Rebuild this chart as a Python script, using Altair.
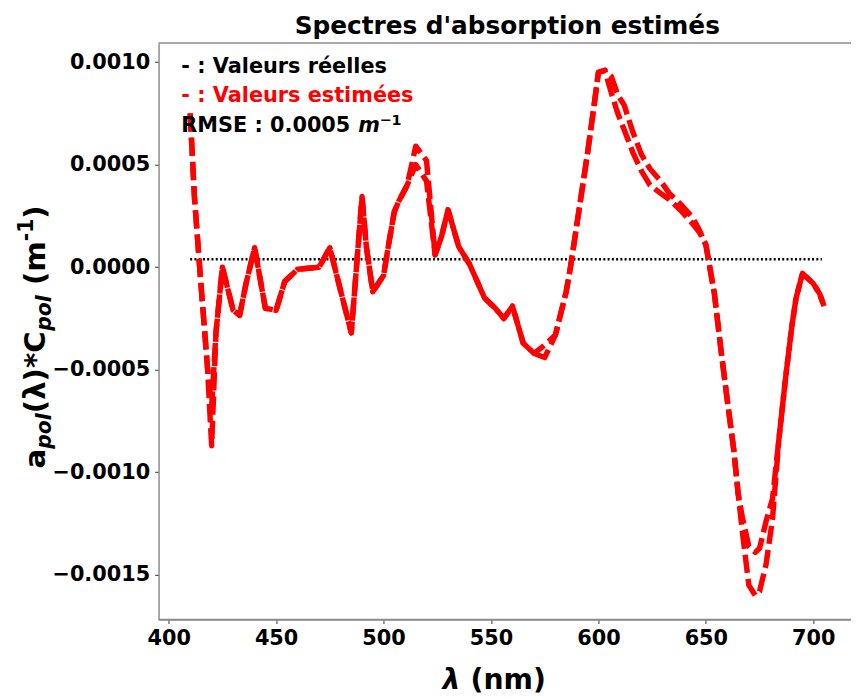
import altair as alt
import pandas as pd

# ---- data ----
wavelength = [410, 412, 415, 418, 420, 422, 425, 430, 433, 436, 440, 445, 450, 454,
              460, 465, 470, 475, 480, 485, 490, 492, 495, 500, 503, 505, 507, 511,
              515, 520, 524, 527, 530, 535, 540, 547, 552, 556, 560, 565, 570, 575,
              580, 585, 587, 589, 592, 595, 598, 600, 603, 606, 609, 612, 616, 620,
              624, 629, 633, 638, 644, 647, 650, 654, 657, 660, 663, 665, 667, 670,
              673, 675, 678, 681, 684, 687, 690, 692, 695, 700, 703, 705]

estimate_a = [0.00075, 0.00034, -0.00008, -0.00048, -0.00087, -0.00032, 0.0, -0.00021,
              -0.000235, -0.00008, 0.000095, -0.0002, -0.00021, -0.00007, -0.00001,
              -0.000005, 0.0, 0.000095, -0.000114, -0.00032, 0.000345, 0.0001, -0.00012,
              -0.00004, 0.00015, 0.00027, 0.00032, 0.0004, 0.00059, 0.00052, 0.00006,
              0.00015, 0.00028, 0.0001, 0.000015, -0.00015, -0.0002, -0.00025, -0.00019,
              -0.00037, -0.00042, -0.00044, -0.00033, -0.00012, 0.0, 0.00014, 0.00035,
              0.00056, 0.00079, 0.00095, 0.00096, 0.00093, 0.00084, 0.00079, 0.00066,
              0.00055, 0.00048, 0.00042, 0.00036, 0.00031, 0.00024, 0.00018, 0.00011,
              -0.00013, -0.0004, -0.00065, -0.00089, -0.0011, -0.00129, -0.00155,
              -0.0016, -0.00158, -0.00145, -0.00123, -0.00084, -0.00055, -0.00029,
              -0.00015, -0.00003, -0.00008, -0.00013, -0.00019]

estimate_b = [0.00075, 0.00034, -0.00008, -0.00048, -0.00068, -0.00032, 0.0, -0.00021,
              -0.000235, -0.00008, 0.000095, -0.0002, -0.00021, -0.00007, -0.00001,
              -0.000005, 0.0, 0.000095, -0.000114, -0.00032, 0.000345, 0.0001, -0.00012,
              -0.00004, 0.00015, 0.00027, 0.00032, 0.0004, 0.0005, 0.00042, 0.00006,
              0.00015, 0.00028, 0.0001, 0.000015, -0.00015, -0.0002, -0.00025, -0.00019,
              -0.00037, -0.00042, -0.00038, -0.00033, -0.00012, 0.0, 0.00014, 0.00035,
              0.00056, 0.00079, 0.00095, 0.00096, 0.00085, 0.00075, 0.00067, 0.00056,
              0.00047, 0.0004, 0.00036, 0.00033, 0.00028, 0.00021, 0.00017, 0.00011,
              -0.00013, -0.0004, -0.00065, -0.00089, -0.0011, -0.00122, -0.00136,
              -0.00139, -0.00137, -0.00124, -0.00113, -0.00084, -0.00055, -0.00029,
              -0.00015, -0.00003, -0.00008, -0.00013, -0.00019]

real_wavelength = [410, 704]
real_values = [0.000039, 0.000039]

x_ticks = [400, 450, 500, 550, 600, 650, 700]
y_ticks = [-0.0015, -0.0010, -0.0005, 0.0, 0.0005, 0.0010]

FONT = "DejaVu Sans"
W, H = 698, 582
SPINE = "#8c8c8c"

n = len(wavelength)
df_est = pd.DataFrame({"wl": wavelength * 2,
                       "v": estimate_a + estimate_b,
                       "s": ["A"] * n + ["B"] * n})
df_real = pd.DataFrame({"wl": real_wavelength, "v": real_values})

x_enc = alt.X("wl:Q",
              scale=alt.Scale(domain=[395.3, 717.1], nice=False, zero=False),
              axis=alt.Axis(values=x_ticks, title=None, format="d"))
y_enc = alt.Y("v:Q",
              scale=alt.Scale(domain=[-0.0017172, 0.0010933], nice=False, zero=False),
              axis=alt.Axis(values=y_ticks, title=None, format=".4f"))

real = alt.Chart(df_real).mark_line(
    color="black", strokeDash=[2, 2.3], strokeWidth=2.4, clip=True
).encode(x=x_enc, y=y_enc)

est = alt.Chart(df_est).mark_line(
    color="#ff0000", strokeDash=[18.5, 6], strokeWidth=5.5, strokeJoin="round",
    strokeCap="butt", clip=True
).encode(x=x_enc, y=y_enc, detail="s:N")

one = pd.DataFrame({"k": [0]})

top_spine = alt.Chart(one).mark_rule(color=SPINE, strokeWidth=1.5).encode(
    x=alt.value(0), x2=alt.value(W + 1), y=alt.value(0))
bottom_spine = alt.Chart(one).mark_rule(color=SPINE, strokeWidth=1.5).encode(
    x=alt.value(0), x2=alt.value(W + 1), y=alt.value(H))


def txt(text, x, y, size, color="black", style="normal", angle=0, align="left",
        weight="bold"):
    return alt.Chart(one).mark_text(
        text=text, font=FONT, fontSize=size, fontWeight=weight, fontStyle=style,
        color=color, angle=angle, align=align, baseline="alphabetic"
    ).encode(x=alt.value(x), y=alt.value(y))


texts = [
    # title
    txt("Spectres d'absorption estimés", 352, -9.5, 25, align="center"),
    # annotations
    txt("- : Valeurs réelles", 23, 30, 21),
    txt("- : Valeurs estimées", 23, 60, 21, color="#ff0000"),
    txt("RMSE : 0.0005", 23, 90, 21),
    txt("m", 201.5, 90, 21, style="italic"),
    txt("\u22121", 223, 83, 14.5),
    # x title
    txt("λ", 286.5, 652, 28.5, style="italic"),
    txt("(nm)", 315, 652, 28.5),
    # y title (rotated pieces)
    txt("a", -115, 429.5, 29.5, angle=270),
    txt("pol", -109, 409.6, 20.5, style="italic", angle=270),
    txt("(λ)*C", -115, 373.8, 29.5, angle=270),
    txt("pol", -109, 290.5, 20.5, style="italic", angle=270),
    txt("(m", -115, 244.4, 29.5, angle=270),
    txt("-1", -127, 200.2, 20.5, angle=270),
    txt(")", -115, 177.4, 29.5, angle=270),
]

chart = alt.layer(real, est, top_spine, bottom_spine, *texts).properties(
    width=W, height=H,
    padding={"left": 152, "top": 32, "right": 1, "bottom": 76},
    autosize=alt.AutoSizeParams(type="none"),
).configure_view(stroke=None).configure_axis(
    grid=False,
    domainColor=SPINE, domainWidth=1.5,
    tickColor="#555555", tickSize=4, tickWidth=1.2,
    labelFont=FONT, labelFontSize=21, labelFontWeight="bold", labelColor="black",
).configure_axisX(labelPadding=4).configure_axisY(labelPadding=5)

chart.save("out.html", embed_options={"renderer": "svg", "actions": False})
